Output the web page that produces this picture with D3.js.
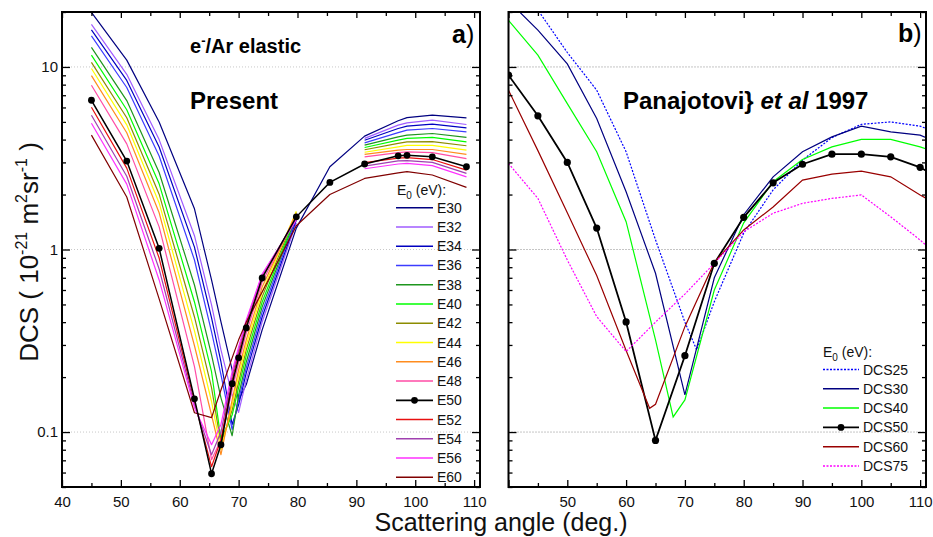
<!DOCTYPE html>
<html>
<head>
<meta charset="utf-8">
<script src="https://cdn.jsdelivr.net/npm/d3@7"></script>
<style>
  body { margin: 0; background: #fff; }
  svg { display: block; font-family: Arial, "Liberation Sans", sans-serif; }
</style>
</head>
<body>
<svg id="chart" width="933" height="537"></svg>
<script>
// ---------- Panel a: present calculation, e-/Ar elastic DCS ----------
const anglesA = [45, 51, 56.5, 62.5, 65.4, 67, 68.9, 70, 71.3, 74, 79.8, 85.5, 91.4, 97.1, 98.6, 102.9, 108.7];
const energiesA = ["E30", "E32", "E34", "E36", "E38", "E40", "E42", "E44", "E46", "E48", "E50", "E52", "E54", "E56", "E60"];
const colorsA = ["#000080", "#a05cff", "#0000c0", "#3c3cff", "#1e961e", "#00ff00", "#8c8c00", "#ffff00",
                 "#ff8c1e", "#ff4da6", "#000000", "#e81010", "#a040b0", "#ff30ff", "#800000"];

const e30 = [19.9, 10.9, 5.00, 1.67, 0.681, 0.401, 0.219, 0.150, 0.182, 0.363, 1.31, 2.84, 4.18, 5.07, 5.28, 5.44, 5.26];
const e32 = [17.1, 9.11, 4.00, 1.19, 0.497, 0.282, 0.160, 0.128, 0.193, 0.401, 1.40, null, 4.06, 4.80, 4.94, 5.11, 4.84];
const e34 = [15.96, 8.44, 3.64, 1.03, 0.422, 0.242, 0.110, 0.141, 0.211, 0.427, 1.45, null, 3.97, 4.60, 4.74, 4.86, 4.64];
const e36 = [14.8, 7.72, 3.25, 0.876, 0.354, 0.206, 0.103, 0.150, 0.225, 0.455, 1.49, null, 3.84, 4.37, 4.51, 4.60, 4.41];
const e38 = [12.8, 6.54, 2.64, 0.639, 0.265, 0.154, 0.0954, 0.160, 0.242, 0.485, 1.53, null, 3.73, 4.14, 4.23, 4.32, 4.11];
const e40 = [11.6, 5.83, 2.29, 0.516, 0.214, 0.0908, 0.124, 0.175, 0.262, 0.516, 1.56, null, 3.62, 3.97, 4.06, 4.11, 3.89];
const e42 = [10.6, 5.27, 2.01, 0.427, 0.175, 0.0863, 0.132, 0.188, 0.282, 0.550, 1.60, null, 3.52, 3.81, 3.89, 3.90, 3.70];
const e44 = [9.80, 4.82, 1.80, 0.358, 0.147, 0.080, 0.141, 0.203, 0.300, 0.585, 1.62, null, 3.41, 3.65, 3.72, 3.72, 3.50];
const e46 = [8.96, 4.36, 1.59, 0.297, 0.124, 0.0751, 0.150, 0.219, 0.320, 0.623, 1.58, null, 3.32, 3.50, 3.53, 3.53, 3.32];
const e48 = [7.94, 3.79, 1.33, 0.228, 0.0706, 0.0908, 0.170, 0.239, 0.349, 0.664, 1.53, null, 3.22, 3.39, 3.43, 3.39, 3.15];
const e50 = [6.57, 3.05, 1.015, 0.152, 0.0591, 0.0852, 0.184, 0.255, 0.372, 0.698, 1.51, 2.33, 2.94, 3.26, 3.28, 3.22, 2.84];
const e52 = [6.02, 2.79, 0.898, 0.1465, 0.0646, 0.0908, 0.193, 0.272, 0.386, 0.707, 1.49, null, 2.99, 3.17, 3.19, 3.11, 2.72];
const e54 = [5.44, 2.52, 0.782, 0.141, 0.0751, 0.100, 0.203, 0.282, 0.401, 0.725, 1.47, null, 2.86, 3.06, 3.07, 3.00, 2.61];
const e56 = [4.92, 2.28, 0.681, 0.136, 0.0852, 0.110, 0.214, 0.293, 0.411, 0.734, 1.45, null, 2.77, 2.94, 2.96, 2.88, 2.50];
const e60 = [4.23, 1.94, 0.536, 0.1275, 0.120, 0.170, 0.255, 0.320, 0.401, 0.585, 1.35, 2.00, 2.45, 2.63, 2.67, 2.56, 2.19];
const dcsA = [e30, e32, e34, e36, e38, e40, e42, e44, e46, e48, e50, e52, e54, e56, e60];

// ---------- Panel b: Panajotovic et al 1997 ----------
const namesB = ["DCS25", "DCS30", "DCS40", "DCS50", "DCS60", "DCS75"];
const colorsB = ["#0000ff", "#000080", "#00ff00", "#000000", "#990000", "#ff00ff"];
const anglesB25 = [40, 45, 50, 55, 60, 65, 70, 72, 75, 80, 85, 90, 95, 100, 105, 110, 115];
const dcs25 = [31, 20.5, 12.0, 7.46, 3.43, 1.13, 0.40, 0.282, 0.518, 1.23, 2.12, 3.09, 4.10, 4.85, 5.00, 4.74, 4.10];
const anglesB30 = [40, 45, 50, 55, 60, 65, 70, 75, 80, 85, 90, 95, 100, 105, 110, 115];
const dcs30 = [23, 15.9, 10.4, 5.22, 2.07, 0.741, 0.160, 0.70, 1.55, 2.50, 3.43, 4.14, 4.74, 4.41, 4.23, 3.60];
const anglesB40 = [40, 45, 50, 55, 60, 65, 68, 70, 75, 80, 85, 90, 95, 100, 105, 110, 115];
const dcs40 = [18.0, 11.6, 6.30, 3.43, 1.42, 0.32, 0.121, 0.150, 0.60, 1.40, 2.35, 3.11, 3.65, 4.01, 4.01, 3.65, 3.22];
const anglesB50 = [40, 45, 50, 55, 60, 65, 70, 75, 80, 85, 90, 95, 100, 105, 110, 115];
const dcs50 = [9.01, 5.40, 3.00, 1.31, 0.401, 0.090, 0.262, 0.84, 1.50, 2.32, 2.93, 3.33, 3.33, 3.22, 2.82, 2.27];
const anglesB60 = [40, 45, 50, 55, 60, 64, 65, 70, 75, 80, 85, 90, 95, 100, 105, 110, 115];
const dcs60 = [7.46, 3.48, 1.59, 0.72, 0.28, 0.135, 0.142, 0.378, 0.85, 1.28, 1.71, 2.40, 2.59, 2.69, 2.50, 1.99, 1.61];
const anglesB75 = [40, 45, 50, 55, 60, 65, 70, 75, 80, 85, 90, 95, 100, 105, 110, 115];
const dcs75 = [2.96, 1.905, 0.876, 0.429, 0.276, 0.40, 0.57, 0.84, 1.25, 1.58, 1.79, 1.905, 1.99, 1.51, 1.127, 0.81];
const anglesB = [anglesB25, anglesB30, anglesB40, anglesB50, anglesB60, anglesB75];
const dcsB = [dcs25, dcs30, dcs40, dcs50, dcs60, dcs75];

// ---------- Axis ticks ----------
const xMajor = [40, 50, 60, 70, 80, 90, 100, 110];
const xMinor = [45, 55, 65, 75, 85, 95, 105];
const xLabelsA = [40, 50, 60, 70, 80, 90, 100, 110];
const xLabelsB = [50, 60, 70, 80, 90, 100, 110];
const yMajor = [0.1, 1, 10];
const yMinor = [0.05, 0.06, 0.07, 0.08, 0.09, 0.2, 0.3, 0.4, 0.5, 0.6, 0.7, 0.8, 0.9, 2, 3, 4, 5, 6, 7, 8, 9, 20];

// ---------- Layout ----------
const svg = d3.select("#chart");
const plotTop = 12, plotBottom = 487;
const y = d3.scaleLog().domain([0.05, 20]).range([plotBottom, plotTop]);
const xA = d3.scaleLinear().domain([40, 111]).range([62, 480]);
const xB = d3.scaleLinear().domain([40, 111]).range([508.5, 926]);

const defs = svg.append("defs");
[["clipA", xA], ["clipB", xB]].forEach(([id, x]) => {
  defs.append("clipPath").attr("id", id).append("rect")
    .attr("x", x.range()[0]).attr("y", plotTop)
    .attr("width", x.range()[1] - x.range()[0]).attr("height", plotBottom - plotTop);
});

function grid(x, color) {
  svg.append("g").selectAll("line").data(yMajor).join("line")
    .attr("x1", x.range()[0]).attr("x2", x.range()[1])
    .attr("y1", d => y(d)).attr("y2", d => y(d))
    .attr("stroke", color).attr("stroke-width", 1).attr("stroke-dasharray", "1,2");
}

function styleAxis(g) {
  g.select(".domain").remove();
  g.selectAll(".tick line").attr("stroke", "#000").attr("stroke-width", 1.3);
  g.selectAll("text").attr("font-family", "Arial, 'Liberation Sans', sans-serif")
    .attr("font-size", 15).attr("fill", "#111");
}

function frame(x, xLabels, showYLabels) {
  const [x0, x1] = x.range();
  svg.append("g").attr("transform", `translate(0,${plotBottom})`)
    .call(d3.axisBottom(x).tickValues(xMajor).tickSize(-7).tickPadding(9)
      .tickFormat(v => xLabels.includes(v) ? String(v) : "")).call(styleAxis);
  svg.append("g").attr("transform", `translate(0,${plotBottom})`)
    .call(d3.axisBottom(x).tickValues(xMinor).tickSize(-4).tickFormat("")).call(styleAxis);
  svg.append("g").attr("transform", `translate(0,${plotTop})`)
    .call(d3.axisTop(x).tickValues(xMajor).tickSize(-6).tickFormat("")).call(styleAxis);
  svg.append("g").attr("transform", `translate(0,${plotTop})`)
    .call(d3.axisTop(x).tickValues(xMinor).tickSize(-4).tickFormat("")).call(styleAxis);
  svg.append("g").attr("transform", `translate(${x0},0)`)
    .call(d3.axisLeft(y).tickValues(yMajor).tickSize(-8).tickPadding(4)
      .tickFormat(v => showYLabels ? d3.format("~g")(v) : "")).call(styleAxis);
  svg.append("g").attr("transform", `translate(${x0},0)`)
    .call(d3.axisLeft(y).tickValues(yMinor).tickSize(-4).tickFormat("")).call(styleAxis);
  svg.append("g").attr("transform", `translate(${x1},0)`)
    .call(d3.axisRight(y).tickValues(yMajor).tickSize(-8).tickFormat("")).call(styleAxis);
  svg.append("g").attr("transform", `translate(${x1},0)`)
    .call(d3.axisRight(y).tickValues(yMinor).tickSize(-4).tickFormat("")).call(styleAxis);
  svg.append("rect").attr("x", x0).attr("y", plotTop)
    .attr("width", x1 - x0).attr("height", plotBottom - plotTop)
    .attr("fill", "none").attr("stroke", "#000").attr("stroke-width", 2);
}

// ---------- Panel a ----------
grid(xA, "#c8c8c8");
const lineA = d3.line().defined(d => d[1] != null).x(d => xA(d[0])).y(d => y(d[1]));
const gA = svg.append("g").attr("clip-path", "url(#clipA)");
const seriesA = energiesA.map((name, i) => ({
  name, color: colorsA[i], pts: anglesA.map((a, j) => [a, dcsA[i][j]])
}));
seriesA.filter(s => s.name !== "E50").forEach(s => {
  gA.append("path").attr("d", lineA(s.pts)).attr("fill", "none")
    .attr("stroke", s.color).attr("stroke-width", 1.2).attr("stroke-linejoin", "round");
});
const sA50 = seriesA.find(s => s.name === "E50");
gA.append("path").attr("d", lineA(sA50.pts)).attr("fill", "none")
  .attr("stroke", "#000").attr("stroke-width", 1.5);
gA.selectAll("circle").data(sA50.pts.filter(d => d[1] != null)).join("circle")
  .attr("cx", d => xA(d[0])).attr("cy", d => y(d[1])).attr("r", 3.4).attr("fill", "#000");
frame(xA, xLabelsA, true);

// ---------- Panel b ----------
grid(xB, "#8a8a8a");
const lineB = d3.line().x(d => xB(d[0])).y(d => y(d[1]));
const gB = svg.append("g").attr("clip-path", "url(#clipB)");
const seriesB = namesB.map((name, i) => ({
  name, color: colorsB[i], pts: anglesB[i].map((a, j) => [a, dcsB[i][j]]),
  dashed: name === "DCS25" || name === "DCS75"
}));
seriesB.forEach(s => {
  gB.append("path").attr("d", lineB(s.pts)).attr("fill", "none")
    .attr("stroke", s.color).attr("stroke-width", s.name === "DCS50" ? 1.8 : 1.2)
    .attr("stroke-dasharray", s.dashed ? "2,1.5" : null);
});
const sB50 = seriesB.find(s => s.name === "DCS50");
gB.selectAll("circle").data(sB50.pts).join("circle")
  .attr("cx", d => xB(d[0])).attr("cy", d => y(d[1])).attr("r", 3.6).attr("fill", "#000");
frame(xB, xLabelsB, false);

// ---------- Legends ----------
function legendHeader(x, yb) {
  const t = svg.append("text").attr("x", x).attr("y", yb).attr("font-size", 14).attr("fill", "#111");
  t.append("tspan").text("E");
  t.append("tspan").attr("dy", 4).attr("font-size", 10).text("0");
  t.append("tspan").attr("dy", -4).text(" (eV):");
}
function legend(series, x0, x1, y0, step) {
  series.forEach((s, i) => {
    const yy = y0 + i * step;
    svg.append("line").attr("x1", x0).attr("x2", x1).attr("y1", yy).attr("y2", yy)
      .attr("stroke", s.color)
      .attr("stroke-width", (s.name === "E50" || s.name === "DCS50") ? 1.8 : 1.5)
      .attr("stroke-dasharray", s.dashed ? "2,1.5" : null);
    if (s.name === "E50" || s.name === "DCS50") {
      svg.append("circle").attr("cx", (x0 + x1) / 2).attr("cy", yy).attr("r", 3.4).attr("fill", "#000");
    }
    svg.append("text").attr("x", x1 + 4).attr("y", yy + 5).attr("font-size", 14)
      .attr("fill", "#111").text(s.name);
  });
}
legendHeader(397, 195);
legend(seriesA, 396, 433, 207.7, 19.26);
legendHeader(823, 357);
legend(seriesB, 823, 859, 369.5, 19.3);

// ---------- Titles ----------
const t1 = svg.append("text").attr("x", 190).attr("y", 53).attr("font-size", 20).attr("font-weight", "bold");
t1.append("tspan").text("e");
t1.append("tspan").attr("dy", -8).attr("font-size", 13).text("-");
t1.append("tspan").attr("dy", 8).text("/Ar elastic");
svg.append("text").attr("x", 190).attr("y", 109).attr("font-size", 24).attr("font-weight", "bold").text("Present");

const ta = svg.append("text").attr("x", 452).attr("y", 43).attr("font-size", 25);
ta.append("tspan").attr("font-weight", "bold").text("a");
ta.append("tspan").text(")");
const tb = svg.append("text").attr("x", 898).attr("y", 42).attr("font-size", 25);
tb.append("tspan").attr("font-weight", "bold").text("b");
tb.append("tspan").text(")");

const tp = svg.append("text").attr("x", 623).attr("y", 109).attr("font-size", 24).attr("font-weight", "bold");
tp.append("tspan").text("Panajotovi} ");
tp.append("tspan").attr("font-style", "italic").text("et al");
tp.append("tspan").text(" 1997");

// ---------- Axis titles ----------
svg.append("text").attr("x", 501).attr("y", 531).attr("text-anchor", "middle")
  .attr("font-size", 25).attr("fill", "#111").text("Scattering angle (deg.)");

const yt = svg.append("text").attr("transform", "translate(38,252) rotate(-90)")
  .attr("text-anchor", "middle").attr("font-size", 26).attr("fill", "#111");
yt.append("tspan").text("DCS ( 10");
yt.append("tspan").attr("dy", -11).attr("font-size", 16).text("-21");
yt.append("tspan").attr("dy", 11).text(" m");
yt.append("tspan").attr("dy", -11).attr("font-size", 16).text("2");
yt.append("tspan").attr("dy", 11).text("sr");
yt.append("tspan").attr("dy", -11).attr("font-size", 16).text("-1");
yt.append("tspan").attr("dy", 11).text(" )");
</script>
</body>
</html>
